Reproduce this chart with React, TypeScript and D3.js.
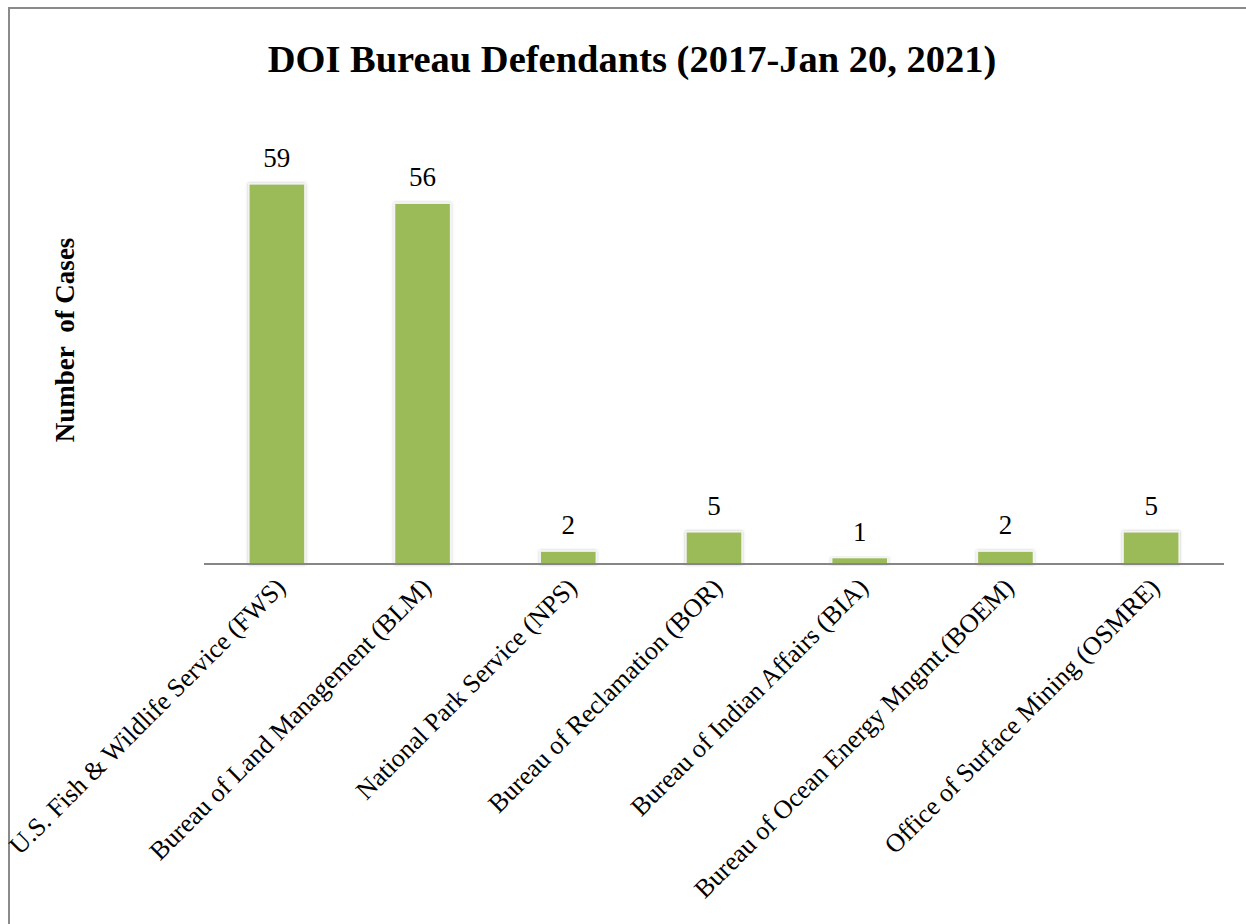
import React, { useEffect, useRef } from 'react';
import * as d3 from 'd3';

const categories = [
  'U.S. Fish & Wildlife Service (FWS)',
  'Bureau of Land Management (BLM)',
  'National Park Service (NPS)',
  'Bureau of Reclamation (BOR)',
  'Bureau of Indian Affairs (BIA)',
  'Bureau of Ocean Energy Mngmt.(BOEM)',
  'Office of Surface Mining (OSMRE)',
];
const caseCounts = [59, 56, 2, 5, 1, 2, 5];

const title = 'DOI Bureau Defendants (2017-Jan 20, 2021)';
const yTitle = 'Number\u00a0 of Cases';

const App: React.FC = () => {
  const svgRef = useRef<SVGSVGElement>(null);

  useEffect(() => {
    if (!svgRef.current) return;
    const width = 1246;
    const height = 924;
    const font = '"Liberation Serif", "DejaVu Serif", serif';

    const svg = d3.select(svgRef.current);
    svg.selectAll('*').remove();

    svg.append('rect').attr('width', width).attr('height', height).attr('fill', '#fff');

    // outer chart border (runs off the right and bottom)
    svg.append('rect')
      .attr('x', 9).attr('y', 8)
      .attr('width', width + 20).attr('height', height + 20)
      .attr('fill', 'none')
      .attr('stroke', '#8a8a8a')
      .attr('stroke-width', 2);

    const defs = svg.append('defs');
    const f = defs.append('filter').attr('id', 'barShadow')
      .attr('x', '-20%').attr('y', '-20%').attr('width', '140%').attr('height', '140%');
    f.append('feDropShadow')
      .attr('dx', 0).attr('dy', 0).attr('stdDeviation', 1.5)
      .attr('flood-color', '#000').attr('flood-opacity', 0.25);

    const x = d3.scaleBand<string>()
      .domain(categories)
      .range([204, 1224])
      .paddingInner(0.615)
      .paddingOuter(0.3075);

    const y = d3.scaleLinear().domain([0, 70]).range([564, 113]);

    const data = categories.map((c, i) => ({ name: c, value: caseCounts[i] }));

    // bars
    svg.append('g')
      .selectAll('rect')
      .data(data)
      .join('rect')
      .attr('x', d => x(d.name)!)
      .attr('y', d => y(d.value))
      .attr('width', x.bandwidth())
      .attr('height', d => y(0) - y(d.value))
      .attr('fill', '#9bbb59')
      .attr('stroke', '#f4f4f4')
      .attr('stroke-width', 1.5)
      .attr('filter', 'url(#barShadow)');

    // baseline
    svg.append('line')
      .attr('x1', 204).attr('x2', 1224)
      .attr('y1', y(0)).attr('y2', y(0))
      .attr('stroke', '#868686')
      .attr('stroke-width', 2);

    // value labels
    svg.append('g')
      .selectAll('text')
      .data(data)
      .join('text')
      .attr('x', d => x(d.name)! + x.bandwidth() / 2)
      .attr('y', d => y(d.value) - 17)
      .attr('text-anchor', 'middle')
      .attr('font-family', font)
      .attr('font-size', 27)
      .attr('fill', '#000')
      .text(d => d.value);

    // category labels
    svg.append('g')
      .selectAll('text')
      .data(categories)
      .join('text')
      .attr('transform', d => `translate(${x(d)! + x.bandwidth() / 2 + 10},${589}) rotate(-45)`)
      .attr('text-anchor', 'end')
      .attr('font-family', font)
      .attr('font-size', 26)
      .attr('fill', '#000')
      .text(d => d);

    // title
    svg.append('text')
      .attr('x', 632).attr('y', 72)
      .attr('text-anchor', 'middle')
      .attr('font-family', font)
      .attr('font-weight', 'bold')
      .attr('font-size', 38.5)
      .attr('fill', '#000')
      .text(title);

    // y axis title
    svg.append('text')
      .attr('transform', 'translate(74,340) rotate(-90)')
      .attr('text-anchor', 'middle')
      .attr('font-family', font)
      .attr('font-weight', 'bold')
      .attr('font-size', 27)
      .attr('fill', '#000')
      .text(yTitle);
  }, []);

  return (
    <svg
      ref={svgRef}
      width={1246}
      height={924}
      style={{ position: 'absolute', left: 0, top: 0, display: 'block' }}
    />
  );
};

export default App;
